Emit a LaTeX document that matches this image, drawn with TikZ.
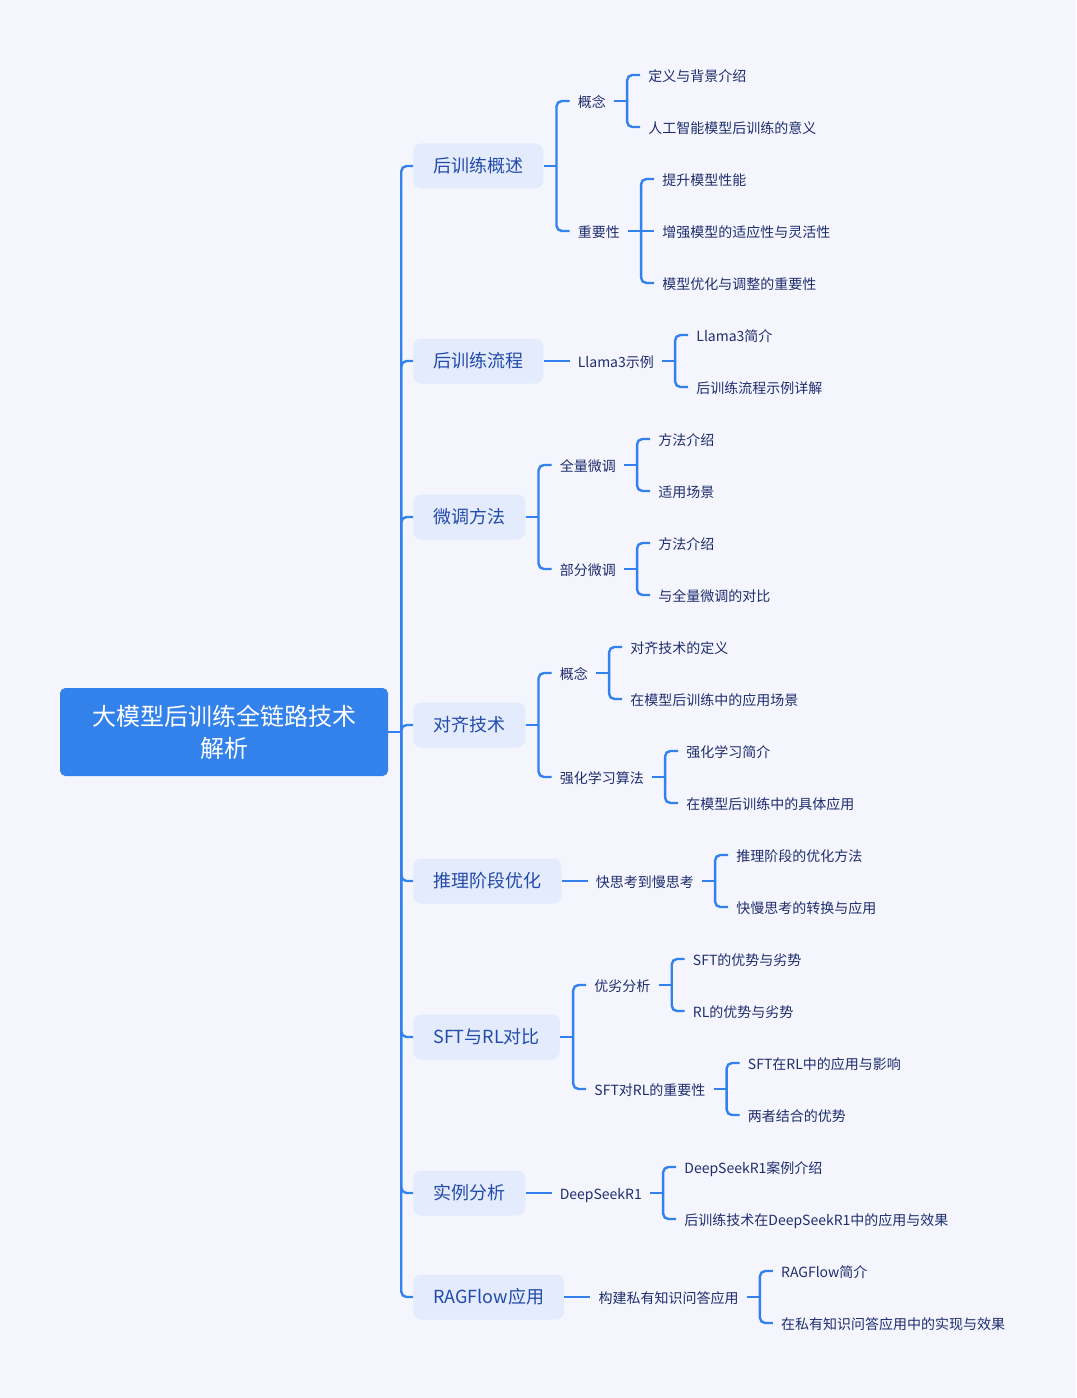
\documentclass[tikz,border=0pt]{standalone}
\usepackage{fontspec}
\setmainfont{Noto Sans CJK SC}
\definecolor{bgc}{HTML}{F5F6FD}
\definecolor{rootc}{HTML}{3381EA}
\definecolor{lone}{HTML}{E3EBFD}
\definecolor{lonet}{HTML}{234BAA}
\definecolor{leaft}{HTML}{1E2D6E}
\definecolor{linec}{HTML}{3381EE}
\tikzset{
  rootbox/.style={fill=rootc, text=white, rounded corners=4pt, align=center,
    text width=200pt, inner xsep=23pt, minimum height=66pt,
    font=\fontsize{18pt}{24pt}\selectfont},
  lonebox/.style={fill=lone, text=lonet, rounded corners=6pt, anchor=west,
    inner xsep=15pt, inner ysep=0pt, minimum height=33.75pt,
    text height=0.96em, text depth=0.04em,
    font=\fontsize{13.5pt}{16pt}\selectfont},
  leafbox/.style={text=leaft, anchor=west, inner xsep=6pt, inner ysep=2pt,
    text height=0.96em, text depth=0.04em,
    font=\fontsize{10.5pt}{13pt}\selectfont},
  conn/.style={draw=linec, line width=1.8pt},
}
\newcommand\kid[4]{\node[leafbox] (#1) at ([xshift=19.5pt]#2.east |- 0,#3) {#4};}
% bent link (child at another height)
\newcommand\lnk[2]{\draw[conn] (#1.east) -- ([xshift=9.75pt]#1.east);
  \draw[conn, rounded corners=4pt] ([xshift=9.75pt]#1.east) |- (#2.west);}
% straight link (child at the same height)
\newcommand\lnks[2]{\draw[conn] (#1.east) -- (#2.west);}
\begin{document}
\begin{tikzpicture}[x=0.75pt, y=-0.75pt]
\fill[bgc] (0,0) rectangle (1076,1398);
\useasboundingbox (0,0) rectangle (1076,1398);

\node[rootbox] (R) at (224,732) {大模型后训练全链路技术\\解析};

% 1
\node[lonebox] (A) at (413,166) {后训练概述};
\kid{A1}{A}{101}{概念}
\kid{A11}{A1}{75}{定义与背景介绍}
\kid{A12}{A1}{127}{人工智能模型后训练的意义}
\kid{A2}{A}{231}{重要性}
\kid{A21}{A2}{179}{提升模型性能}
\kid{A22}{A2}{231}{增强模型的适应性与灵活性}
\kid{A23}{A2}{283}{模型优化与调整的重要性}
% 2
\node[lonebox] (B) at (413,361) {后训练流程};
\kid{B1}{B}{361}{Llama3示例}
\kid{B11}{B1}{335}{Llama3简介}
\kid{B12}{B1}{387}{后训练流程示例详解}
% 3
\node[lonebox] (C) at (413,517) {微调方法};
\kid{C1}{C}{465}{全量微调}
\kid{C11}{C1}{439}{方法介绍}
\kid{C12}{C1}{491}{适用场景}
\kid{C2}{C}{569}{部分微调}
\kid{C21}{C2}{543}{方法介绍}
\kid{C22}{C2}{595}{与全量微调的对比}
% 4
\node[lonebox] (D) at (413,725) {对齐技术};
\kid{D1}{D}{673}{概念}
\kid{D11}{D1}{647}{对齐技术的定义}
\kid{D12}{D1}{699}{在模型后训练中的应用场景}
\kid{D2}{D}{777}{强化学习算法}
\kid{D21}{D2}{751}{强化学习简介}
\kid{D22}{D2}{803}{在模型后训练中的具体应用}
% 5
\node[lonebox] (E) at (413,881) {推理阶段优化};
\kid{E1}{E}{881}{快思考到慢思考}
\kid{E11}{E1}{855}{推理阶段的优化方法}
\kid{E12}{E1}{907}{快慢思考的转换与应用}
% 6
\node[lonebox] (F) at (413,1037) {SFT与RL对比};
\kid{F1}{F}{985}{优劣分析}
\kid{F11}{F1}{959}{SFT的优势与劣势}
\kid{F12}{F1}{1011}{RL的优势与劣势}
\kid{F2}{F}{1089}{SFT对RL的重要性}
\kid{F21}{F2}{1063}{SFT在RL中的应用与影响}
\kid{F22}{F2}{1115}{两者结合的优势}
% 7
\node[lonebox] (G) at (413,1193) {实例分析};
\kid{G1}{G}{1193}{DeepSeekR1}
\kid{G11}{G1}{1167}{DeepSeekR1案例介绍}
\kid{G12}{G1}{1219}{后训练技术在DeepSeekR1中的应用与效果}
% 8
\node[lonebox] (H) at (413,1297) {RAGFlow应用};
\kid{H1}{H}{1297}{构建私有知识问答应用}
\kid{H11}{H1}{1271}{RAGFlow简介}
\kid{H12}{H1}{1323}{在私有知识问答应用中的实现与效果}

% connectors
\foreach \c in {A,B,C,D,E,F,G,H} {\lnk{R}{\c}}
\lnk{A}{A1} \lnk{A}{A2}
\lnk{A1}{A11} \lnk{A1}{A12}
\lnk{A2}{A21} \lnks{A2}{A22} \lnk{A2}{A23}
\lnks{B}{B1} \lnk{B1}{B11} \lnk{B1}{B12}
\lnk{C}{C1} \lnk{C}{C2}
\lnk{C1}{C11} \lnk{C1}{C12} \lnk{C2}{C21} \lnk{C2}{C22}
\lnk{D}{D1} \lnk{D}{D2}
\lnk{D1}{D11} \lnk{D1}{D12} \lnk{D2}{D21} \lnk{D2}{D22}
\lnks{E}{E1} \lnk{E1}{E11} \lnk{E1}{E12}
\lnk{F}{F1} \lnk{F}{F2}
\lnk{F1}{F11} \lnk{F1}{F12} \lnk{F2}{F21} \lnk{F2}{F22}
\lnks{G}{G1} \lnk{G1}{G11} \lnk{G1}{G12}
\lnks{H}{H1} \lnk{H1}{H11} \lnk{H1}{H12}
\end{tikzpicture}
\end{document}
